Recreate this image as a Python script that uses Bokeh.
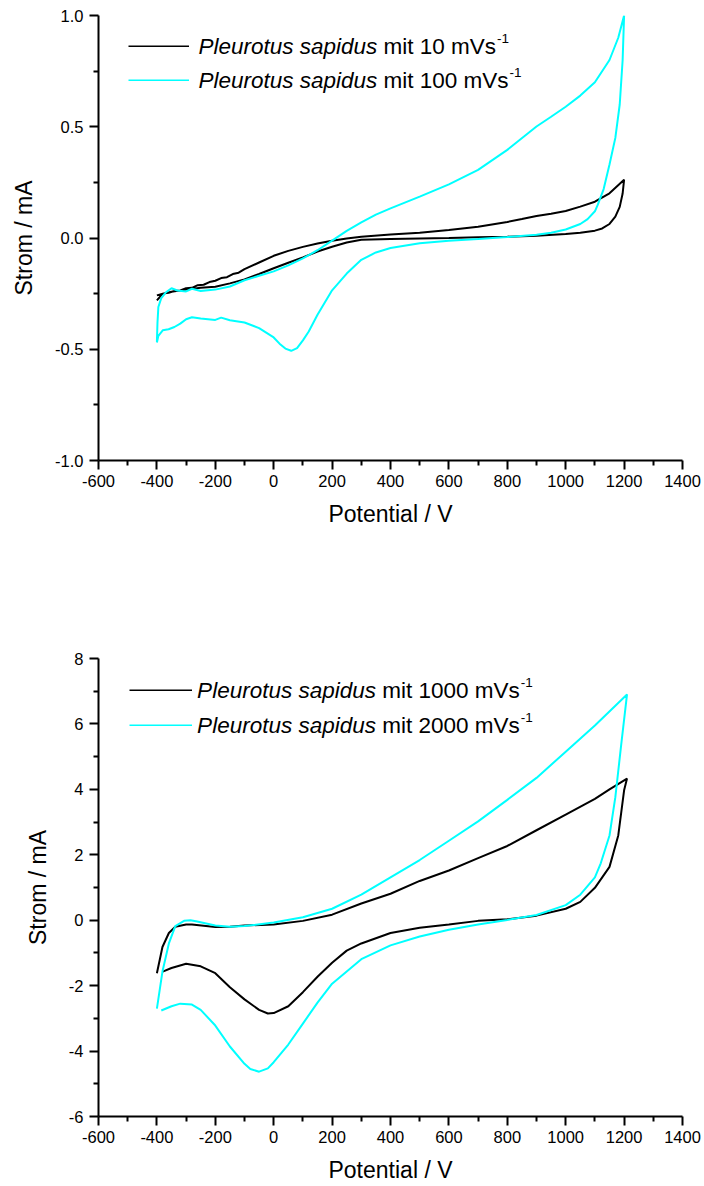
from bokeh.plotting import figure
from bokeh.layouts import column
from bokeh.models import Range1d, FixedTicker, Label, Legend, LegendItem
from bokeh.embed import file_html
from bokeh.resources import INLINE

FONT = "Liberation Sans"

# ---------------- data ----------------
# top panel: 10 mV/s (black) and 100 mV/s (cyan)
top_black_x = [-400, -380, -360, -340, -320, -300, -280, -260, -240, -220, -200, -180, -160,
               -140, -120, -100, -50, 0, 50, 100, 150, 200, 250, 300, 400, 500, 600, 700, 800,
               850, 900, 950, 1000, 1050, 1100, 1150, 1200,
               1195, 1185, 1170, 1150, 1125, 1100, 1050, 1000, 900, 800, 700, 600, 500, 400, 300,
               250, 200, 150, 100, 50, 0, -50, -100, -150, -200, -250, -300, -350, -380, -400]
top_black_y = [-0.258, -0.250, -0.246, -0.238, -0.236, -0.226, -0.224, -0.212, -0.210, -0.198,
               -0.192, -0.180, -0.176, -0.162, -0.156, -0.140, -0.110, -0.080, -0.058, -0.040,
               -0.025, -0.012, -0.002, 0.006, 0.016, 0.024, 0.036, 0.051, 0.072,
               0.085, 0.099, 0.109, 0.121, 0.141, 0.163, 0.201, 0.262,
               0.200, 0.140, 0.096, 0.063, 0.043, 0.033, 0.024, 0.018, 0.010, 0.006, 0.003, 0.0,
               -0.002, -0.004, -0.008, -0.020, -0.039, -0.061, -0.087, -0.111, -0.136, -0.162,
               -0.186, -0.204, -0.219, -0.224, -0.232, -0.242, -0.250, -0.280]

top_cyan_x = [-400, -398, -395, -385, -370, -350, -330, -300, -280, -250, -200, -150, -100, -50,
              0, 50, 100, 150, 200, 250, 300, 350, 400, 500, 600, 700, 800, 900, 950, 1000,
              1050, 1100, 1150, 1180, 1200,
              1195, 1185, 1170, 1150, 1130, 1110, 1100, 1075, 1050, 1000, 950, 900, 800, 700,
              600, 500, 400, 350, 300, 250, 200, 150, 120, 100, 80, 60, 40, 20, 0, -50, -100,
              -150, -180, -200, -250, -280, -300, -320, -340, -360, -380, -395, -400]
top_cyan_y = [-0.466, -0.380, -0.310, -0.270, -0.245, -0.226, -0.236, -0.240, -0.228, -0.238,
              -0.232, -0.218, -0.190, -0.170, -0.150, -0.123, -0.092, -0.055, -0.012, 0.032,
              0.070, 0.105, 0.133, 0.186, 0.241, 0.306, 0.396, 0.501, 0.545, 0.590,
              0.640, 0.700, 0.800, 0.900, 1.000,
              0.800, 0.600, 0.450, 0.330, 0.220, 0.150, 0.120, 0.085, 0.063, 0.038, 0.024,
              0.015, 0.004, -0.005, -0.012, -0.024, -0.045, -0.065, -0.098, -0.160, -0.235,
              -0.345, -0.420, -0.460, -0.495, -0.507, -0.497, -0.475, -0.447, -0.405, -0.380,
              -0.370, -0.358, -0.368, -0.362, -0.356, -0.365, -0.385, -0.400, -0.410, -0.415,
              -0.440, -0.470]

# bottom panel: 1000 mV/s (black) and 2000 mV/s (cyan)
bot_black_x = [-400, -381, -359, -337, -300, -280, -200, -150, -100, 0, 100, 200, 300, 400, 500,
               600, 700, 800, 900, 1000, 1100, 1150, 1210,
               1200, 1180, 1150, 1100, 1050, 1000, 900, 800, 700, 600, 500, 400, 300, 250, 200,
               150, 100, 50, 0, -20, -50, -100, -150, -200, -250, -300, -350, -380]
bot_black_y = [-1.62, -0.82, -0.39, -0.20, -0.13, -0.13, -0.21, -0.20, -0.16, -0.13, -0.02, 0.17,
               0.51, 0.81, 1.20, 1.52, 1.90, 2.27, 2.75, 3.23, 3.71, 4.00, 4.33,
               3.97, 2.59, 1.63, 0.99, 0.56, 0.35, 0.14, 0.03, -0.02, -0.13, -0.23, -0.39, -0.71,
               -0.93, -1.30, -1.73, -2.20, -2.63, -2.84, -2.85, -2.74, -2.42, -2.05, -1.62, -1.41,
               -1.33, -1.46, -1.57]

bot_cyan_x = [-400, -381, -359, -337, -307, -285, -262, -200, -150, -100, 0, 100, 200, 300, 400,
              500, 600, 700, 800, 900, 1000, 1100, 1210,
              1190, 1170, 1150, 1120, 1100, 1050, 1000, 900, 800, 700, 600, 500, 400, 300, 200,
              150, 100, 50, 0, -20, -50, -80, -100, -150, -200, -250, -280, -320, -350, -385]
bot_cyan_y = [-2.70, -1.57, -0.71, -0.18, -0.02, 0.00, -0.04, -0.16, -0.20, -0.18, -0.07, 0.09,
              0.35, 0.78, 1.31, 1.84, 2.43, 3.02, 3.68, 4.35, 5.15, 5.95, 6.90,
              5.36, 3.76, 2.59, 1.74, 1.31, 0.78, 0.46, 0.16, 0.01, -0.13, -0.29, -0.50, -0.77,
              -1.19, -1.94, -2.52, -3.16, -3.80, -4.34, -4.53, -4.63, -4.55, -4.39, -3.86, -3.22,
              -2.74, -2.58, -2.55, -2.63, -2.76]

# axes
x_ticks = [-600, -400, -200, 0, 200, 400, 600, 800, 1000, 1200, 1400]
x_tick_labels = ["-600", "-400", "-200", "0", "200", "400", "600", "800", "1000", "1200", "1400"]
x_minor = [-500, -300, -100, 100, 300, 500, 700, 900, 1100, 1300]

top_y_ticks = [-1.0, -0.5, 0.0, 0.5, 1.0]
top_y_labels = ["-1.0", "-0.5", "0.0", "0.5", "1.0"]
top_y_minor = [-0.75, -0.25, 0.25, 0.75]

bot_y_ticks = [-6, -4, -2, 0, 2, 4, 6, 8]
bot_y_labels = ["-6", "-4", "-2", "0", "2", "4", "6", "8"]
bot_y_minor = [-5, -3, -1, 1, 3, 5, 7]

x_title = "Potential / V"
y_title = "Strom / mA"
species = "Pleurotus sapidus"
top_rates = ["10", "100"]
bot_rates = ["1000", "2000"]

BLACK = "#000000"
CYAN = "#00ffff"

# Arial / Liberation Sans advance widths (per 1000 em)
CW = {"P": 667, "l": 222, "e": 556, "u": 556, "r": 333, "o": 556, "t": 278, "s": 500,
      " ": 278, "a": 556, "p": 556, "i": 222, "d": 556, "m": 833, "V": 667}
for _c in "0123456789":
    CW[_c] = 556


def text_width(s, size):
    return sum(CW.get(c, 556) for c in s) / 1000.0 * size


def make_panel(height, bl, br, bt, bb, x_rng, y_rng, yt, yl, ym, series, rates,
               leg_margin, leg_spacing, glyph_w, text_left, row_tops):
    p = figure(width=704, height=height, output_backend="svg", toolbar_location=None,
               x_range=Range1d(*x_rng), y_range=Range1d(*y_rng),
               min_border_left=bl, min_border_right=br, min_border_top=bt, min_border_bottom=bb)
    p.background_fill_color = "white"
    p.border_fill_color = "white"
    p.outline_line_color = None
    p.grid.visible = False

    renderers = []
    for (xs, ys, col) in series:
        renderers.append(p.line(xs, ys, line_color=col, line_width=2))

    for ax in (p.xaxis[0], p.yaxis[0]):
        ax.axis_line_width = 2
        ax.axis_line_color = "black"
        ax.major_tick_line_width = 2
        ax.minor_tick_line_width = 2
        ax.major_tick_line_color = "black"
        ax.minor_tick_line_color = "black"
        ax.major_tick_in = 0
        ax.major_tick_out = 9
        ax.minor_tick_in = 0
        ax.minor_tick_out = 5
        ax.major_label_text_font = FONT
        ax.major_label_text_font_size = "16.5px"
        ax.major_label_text_color = "black"
        ax.axis_label_text_font = FONT
        ax.axis_label_text_font_size = "23px"
        ax.axis_label_text_font_style = "normal"
        ax.axis_label_text_color = "black"

    xa = p.xaxis[0]
    xa.ticker = FixedTicker(ticks=x_ticks, minor_ticks=x_minor)
    xa.major_label_overrides = {float(t): l for t, l in zip(x_ticks, x_tick_labels)}
    xa.axis_label = x_title
    xa.major_label_standoff = 5
    xa.axis_label_standoff = 11

    ya = p.yaxis[0]
    ya.ticker = FixedTicker(ticks=yt, minor_ticks=ym)
    ya.major_label_overrides = {float(t): l for t, l in zip(yt, yl)}
    ya.axis_label = y_title
    ya.major_label_standoff = 6
    ya.axis_label_standoff = 15

    legend = Legend(items=[LegendItem(label=" ", renderers=[r]) for r in renderers],
                    location="top_left", margin=leg_margin, padding=0, spacing=leg_spacing,
                    glyph_width=glyph_w, glyph_height=2, label_height=1, label_width=1,
                    label_standoff=0, label_text_font_size="1px", label_text_alpha=0,
                    border_line_alpha=0, background_fill_alpha=0)
    p.add_layout(legend)

    fw = 704 - bl - br
    fh = height - bt - bb
    fs = 22.5
    for rate, top in zip(rates, row_tops):
        lx = x_rng[0] + text_left / fw * (x_rng[1] - x_rng[0])
        ly = y_rng[1] - top / fh * (y_rng[1] - y_rng[0])
        w_it = text_width(species, fs)
        reg = "mit " + rate + " mVs"
        w_reg = text_width(reg, fs)
        common = dict(x=lx, y=ly, text_font=FONT, text_color="black",
                      text_baseline="middle", text_align="left")
        p.add_layout(Label(text=species, text_font_style="italic",
                           text_font_size="%.1fpx" % fs, x_offset=0, **common))
        p.add_layout(Label(text=reg, text_font_style="normal", text_font_size="%.1fpx" % fs,
                           x_offset=w_it + text_width(" ", fs), **common))
        p.add_layout(Label(text="-1", text_font_style="normal", text_font_size="13.5px",
                           x_offset=w_it + text_width(" ", fs) + w_reg + 1, y_offset=8,
                           **common))
    return p


p1 = make_panel(540, 98, 22, 15, 80, (-600, 1400), (-1.0, 1.0),
                top_y_ticks, top_y_labels, top_y_minor,
                [(top_black_x, top_black_y, BLACK), (top_cyan_x, top_cyan_y, CYAN)],
                top_rates, 30, 32, 61, 100, [30.5, 64.5])
p2 = make_panel(646, 82, 18, 118, 70, (-600, 1400), (-6, 8),
                bot_y_ticks, bot_y_labels, bot_y_minor,
                [(bot_black_x, bot_black_y, BLACK), (bot_cyan_x, bot_cyan_y, CYAN)],
                bot_rates, 31, 33, 63, 102, [31.6, 67.0])

layout = column(p1, p2, spacing=0)
open("out.html", "w").write(file_html(layout, INLINE))
